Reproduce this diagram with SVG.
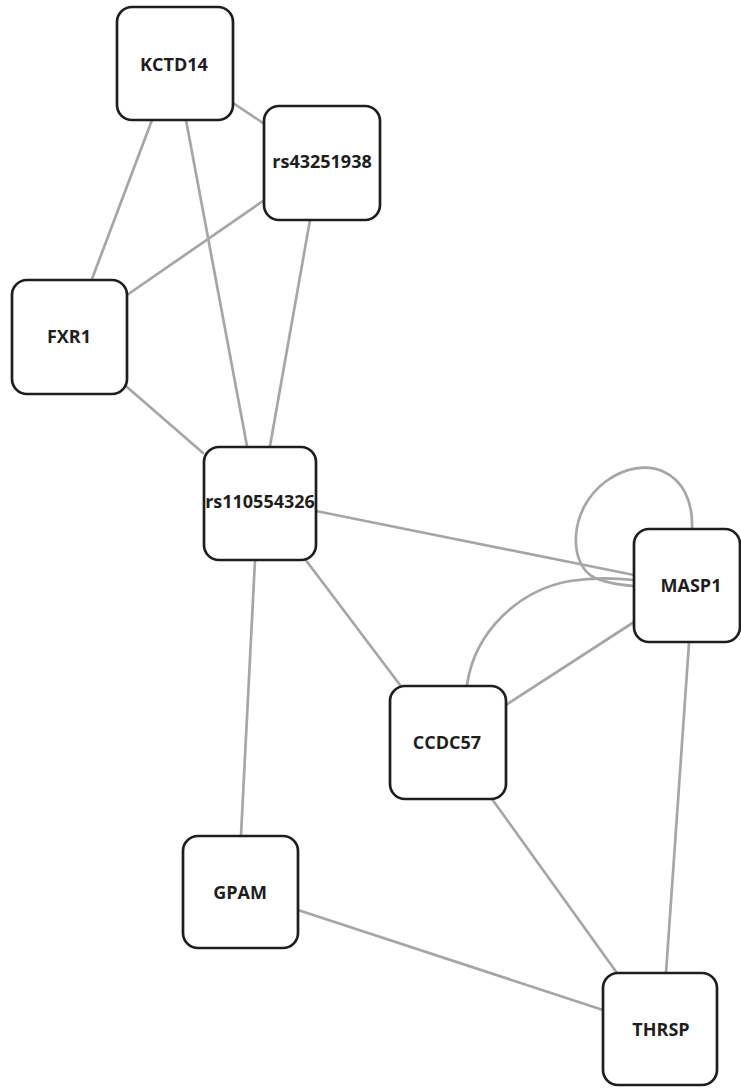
<svg xmlns="http://www.w3.org/2000/svg" width="741" height="1088" viewBox="0 0 741 1088">
<style>
.e{fill:none;stroke:#a6a6a6;stroke-width:2.7;stroke-linecap:round}
.n rect{fill:#fff;stroke:#1e1e1e;stroke-width:2.7}
.n text{font-family:"Open Sans","DejaVu Sans",sans-serif;font-weight:700;font-size:18px;fill:#1e1e1e;text-anchor:middle}
</style>
<rect width="741" height="1088" fill="#fff"/>
<g id="edges">
<line class="e" x1="233" y1="103" x2="263" y2="123"/>
<line class="e" x1="152" y1="120" x2="92" y2="279"/>
<line class="e" x1="186" y1="120" x2="247" y2="446"/>
<line class="e" x1="263" y1="201" x2="127" y2="295"/>
<line class="e" x1="310" y1="220" x2="270" y2="446"/>
<line class="e" x1="127" y1="387" x2="203" y2="453"/>
<line class="e" x1="316" y1="511" x2="634" y2="575"/>
<line class="e" x1="305" y1="559" x2="400" y2="685"/>
<line class="e" x1="255" y1="560" x2="241" y2="835"/>
<line class="e" x1="506" y1="705" x2="634" y2="622"/>
<path class="e" d="M467,685 C475,630 520,590 570,581 C595,577 615,578 634,580"/>
<path class="e" d="M692,528 C694,470 645,452 605,482 C568,510 568,565 595,578 C610,584 622,585 634,586"/>
<line class="e" x1="689" y1="643" x2="666" y2="973"/>
<line class="e" x1="492" y1="799" x2="617" y2="973"/>
<line class="e" x1="298" y1="910" x2="603" y2="1010"/>
</g>
<g id="KCTD14" class="n"><rect x="117" y="7" width="116" height="113" rx="15"/><text x="174" y="71">KCTD14</text></g>
<g id="rs43251938" class="n"><rect x="264" y="106" width="116" height="114" rx="15"/><text x="322" y="168">rs43251938</text></g>
<g id="FXR1" class="n"><rect x="12" y="280" width="115" height="114" rx="15"/><text x="69" y="343">FXR1</text></g>
<g id="rs110554326" class="n"><rect x="204" y="447" width="112" height="113" rx="15"/><text x="260" y="508">rs110554326</text></g>
<g id="MASP1" class="n"><rect x="634" y="529" width="106" height="113" rx="15"/><text x="691" y="592">MASP1</text></g>
<g id="CCDC57" class="n"><rect x="390" y="686" width="116" height="113" rx="15"/><text x="447" y="749">CCDC57</text></g>
<g id="GPAM" class="n"><rect x="183" y="836" width="115" height="112" rx="15"/><text x="240" y="899">GPAM</text></g>
<g id="THRSP" class="n"><rect x="603" y="973" width="114" height="112" rx="15"/><text x="661" y="1036">THRSP</text></g>
</svg>
